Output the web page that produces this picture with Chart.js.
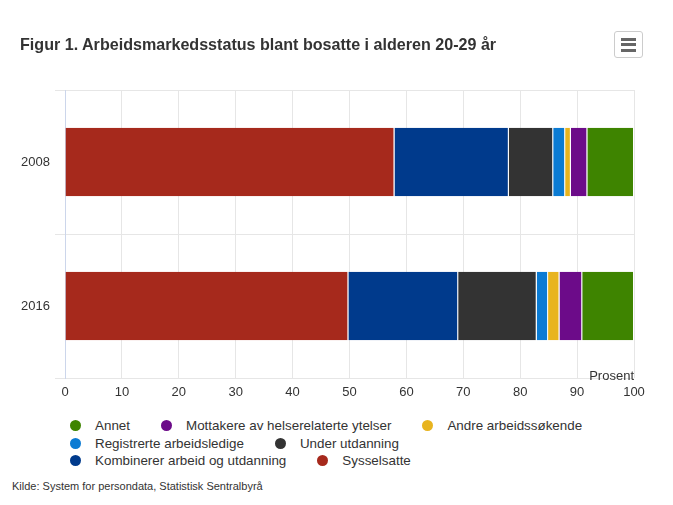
<!DOCTYPE html>
<html>
<head>
<meta charset="utf-8">
<script src="https://cdn.jsdelivr.net/npm/chart.js@4.4.1/dist/chart.umd.min.js"></script>
<style>
  body { margin: 0; background: #fff; font-family: "Liberation Sans", Arial, sans-serif; color: #333; }
  #wrap { position: relative; width: 673px; height: 505px; overflow: hidden; }
  #title { position: absolute; left: 20px; top: 35px; font-size: 16.1px; line-height: 18px; font-weight: bold; color: #333; white-space: nowrap; }
  #menu { position: absolute; left: 614px; top: 31px; width: 27px; height: 25px; border: 1px solid #ccc; border-radius: 3px; background: #fff; }
  #menu span { position: absolute; left: 6px; width: 15px; height: 3px; background: #666; }
  #chartBox { position: absolute; left: 0; top: 0; width: 673px; height: 410px; }
  #legend { position: absolute; left: 70px; top: 417px; width: 570px; display: flex; flex-wrap: wrap; font-size: 13.4px; line-height: 17.5px; color: #333; }
  .item { display: flex; align-items: center; margin-right: 31px; white-space: nowrap; }
  .dot { width: 11px; height: 11px; border-radius: 50%; margin-right: 14px; }
  #source { position: absolute; left: 12px; top: 480px; font-size: 11px; line-height: 13px; color: #333; }
</style>
</head>
<body>
<div id="wrap">
  <div id="chartBox"><canvas id="chart"></canvas></div>
  <div id="title">Figur 1. Arbeidsmarkedsstatus blant bosatte i alderen 20-29 år</div>
  <div id="menu"><span style="top:6px"></span><span style="top:11px"></span><span style="top:17px"></span></div>
  <div id="legend"></div>
  <div id="source">Kilde: System for persondata, Statistisk Sentralbyrå</div>
</div>
<script>
const years = ["2008", "2016"];

// prosent av bosatte 20-29 år
const sysselsatte = [57.9, 49.8];
const kombinerer = [20.1, 19.3];
const underUtdanning = [7.8, 13.8];
const registrerte = [2.1, 2.0];
const andreSokende = [1.0, 2.0];
const mottakere = [2.9, 4.0];
const annet = [8.2, 9.1];

const xMin = 0;
const xMax = 100;
const xStep = 10;
const unitLabel = "Prosent";

// left to right in the bar
const series = [
  { label: "Sysselsatte", data: sysselsatte, color: "#a6291c" },
  { label: "Kombinerer arbeid og utdanning", data: kombinerer, color: "#003a8c" },
  { label: "Under utdanning", data: underUtdanning, color: "#333333" },
  { label: "Registrerte arbeidsledige", data: registrerte, color: "#0b7bd3" },
  { label: "Andre arbeidssøkende", data: andreSokende, color: "#e8b41f" },
  { label: "Mottakere av helserelaterte ytelser", data: mottakere, color: "#6c0b89" },
  { label: "Annet", data: annet, color: "#3e8400" },
];

const font = '"Liberation Sans", Arial, sans-serif';

const unitPlugin = {
  id: "unitLabel",
  afterDraw(chart) {
    const { ctx, chartArea } = chart;
    ctx.save();
    ctx.font = "13px " + font;
    ctx.fillStyle = "#333";
    ctx.textAlign = "right";
    ctx.textBaseline = "alphabetic";
    ctx.fillText(unitLabel, chartArea.right, chartArea.bottom + 1.5);
    ctx.restore();
  },
};

new Chart(document.getElementById("chart"), {
  type: "bar",
  data: {
    labels: years,
    datasets: series.map((s) => ({
      label: s.label,
      data: s.data,
      backgroundColor: s.color,
      borderColor: "#ffffff",
      borderWidth: { left: 0, top: 0, bottom: 0, right: 1 },
      barPercentage: 0.475,
      categoryPercentage: 1,
    })),
  },
  options: {
    indexAxis: "y",
    responsive: true,
    maintainAspectRatio: false,
    animation: false,
    layout: { padding: { top: 90, right: 39, left: 0, bottom: 0 } },
    plugins: {
      legend: { display: false },
      tooltip: { enabled: false },
    },
    scales: {
      x: {
        stacked: true,
        min: xMin,
        max: xMax,
        ticks: { stepSize: xStep, color: "#333", font: { family: font, size: 13 }, padding: 7, maxRotation: 0 },
        grid: { color: "#e6e6e6", drawTicks: false },
        border: { display: false },
        afterFit(scale) { scale.height = 32; },
      },
      y: {
        stacked: true,
        ticks: { color: "#333", font: { family: font, size: 13 }, padding: 5 },
        grid: { offset: true, color: "#e6e6e6", tickLength: 10 },
        border: { color: "#ccd6eb" },
        afterFit(scale) { scale.width = 65; },
      },
    },
  },
  plugins: [unitPlugin],
});

// legend, in the reference's order (reverse of the stack)
const legend = document.getElementById("legend");
series.slice().reverse().forEach((s) => {
  const item = document.createElement("div");
  item.className = "item";
  const dot = document.createElement("span");
  dot.className = "dot";
  dot.style.background = s.color;
  item.appendChild(dot);
  item.appendChild(document.createTextNode(s.label));
  legend.appendChild(item);
});
</script>
</body>
</html>
